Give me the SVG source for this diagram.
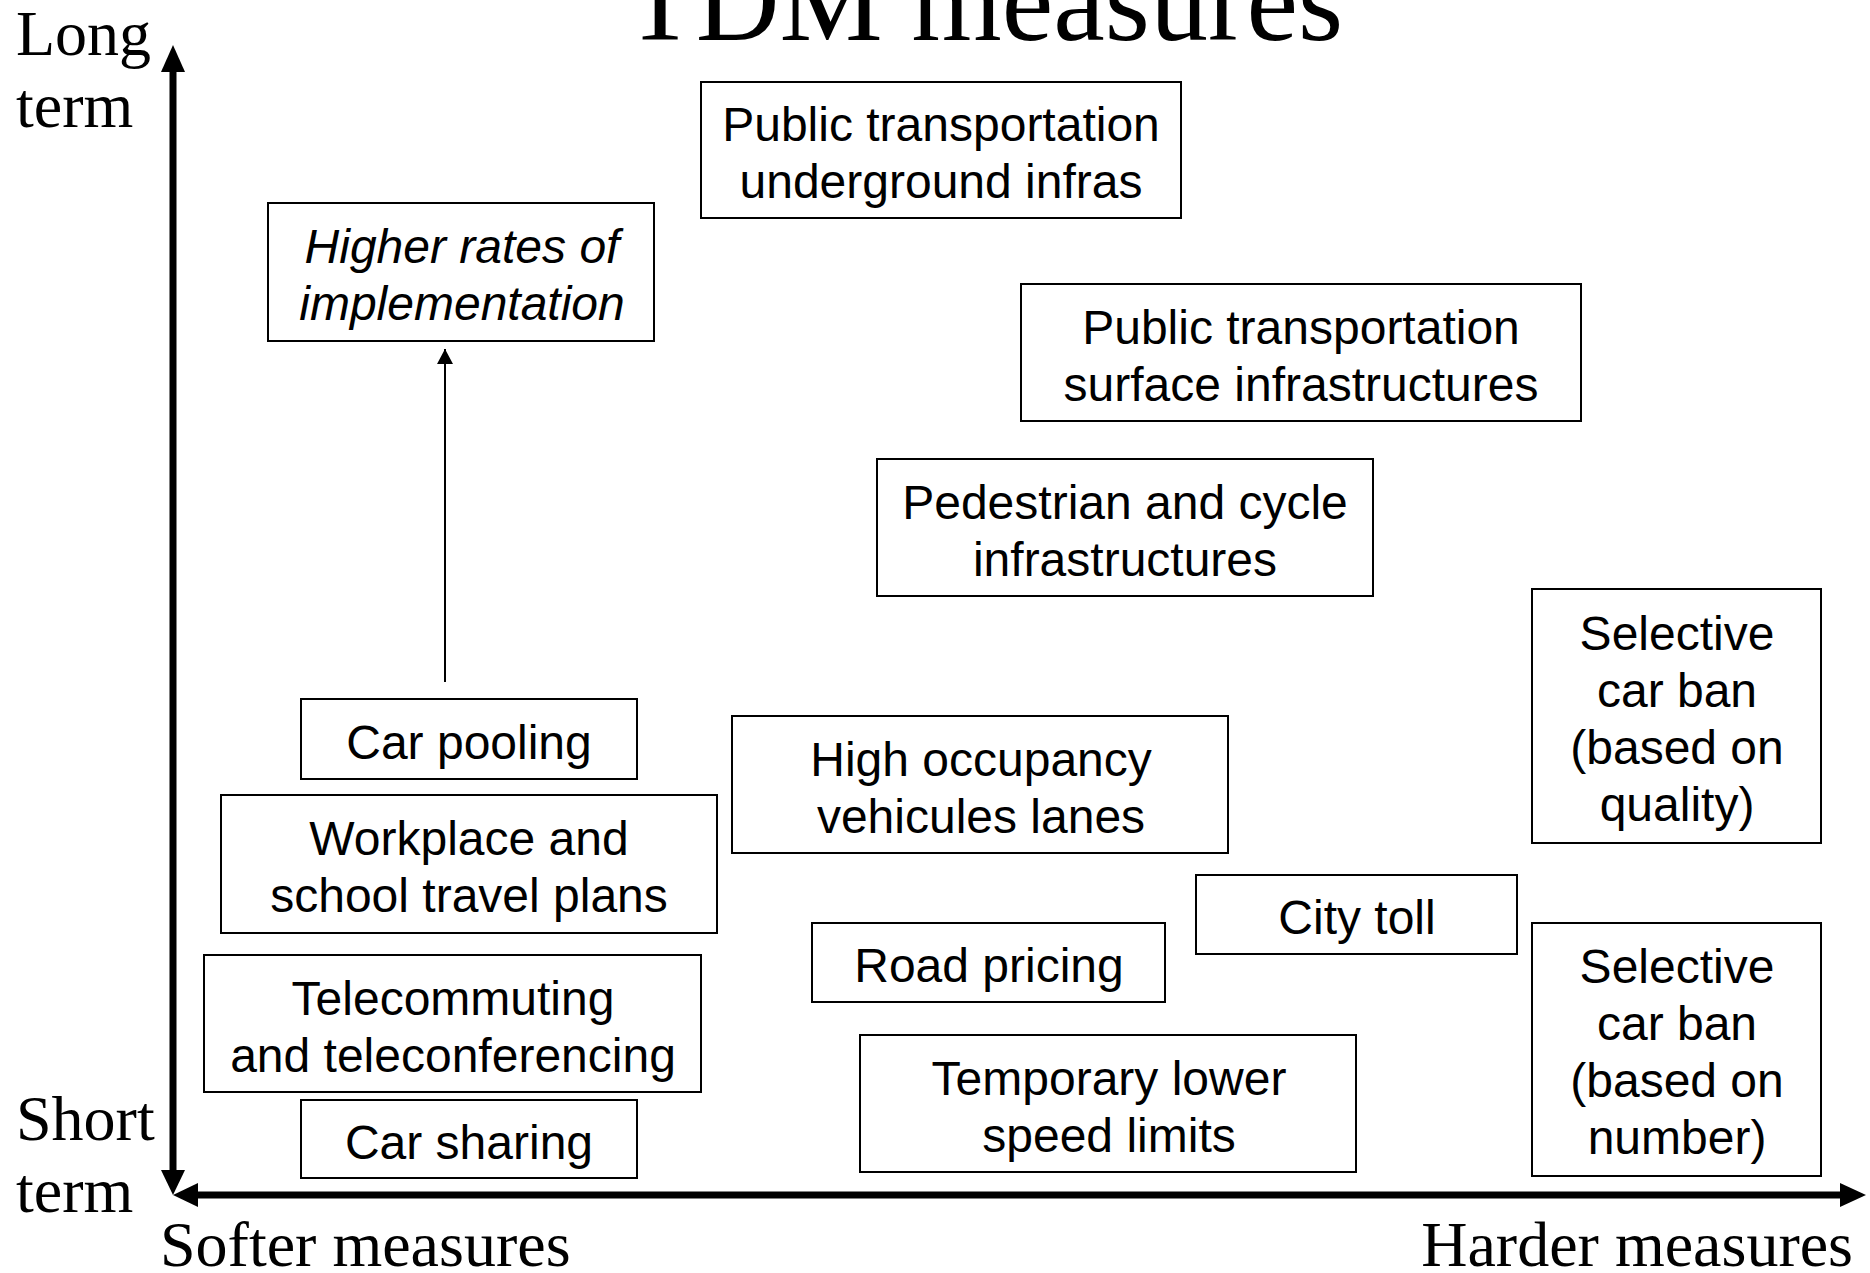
<svg xmlns="http://www.w3.org/2000/svg" width="1870" height="1273" viewBox="0 0 1870 1273">
<style>
.box{fill:#fff;stroke:#000;stroke-width:2}
.t{font-family:"Liberation Sans",Arial,sans-serif;font-size:48px;text-anchor:middle;fill:#000}
.it{font-style:italic}
.s{font-family:"Liberation Serif","Times New Roman",serif;font-size:64px;fill:#000}
.title{font-family:"Liberation Serif","Times New Roman",serif;font-size:116px;text-anchor:middle;fill:#000}
.axis{stroke:#000;stroke-width:7;fill:none}
</style>
<defs>
<marker id="ah" markerUnits="userSpaceOnUse" markerWidth="16" markerHeight="16" refX="15" refY="8" orient="auto">
<path d="M0,0 L15,8 L0,16 z" fill="#000"/>
</marker>
</defs>
<rect width="1870" height="1273" fill="#fff"/>
<text class="title" x="984" y="40">TDM measures</text>
<g id="axes">
<line class="axis" x1="173" y1="70" x2="173" y2="1172"/>
<polygon points="173,45 161,72 185,72"/>
<polygon points="173,1195 161,1170 185,1170"/>
<line class="axis" x1="196" y1="1195" x2="1842" y2="1195"/>
<polygon points="173,1195 198,1183 198,1207"/>
<polygon points="1866,1195 1840,1183 1840,1207"/>
<text class="s" x="16" y="55">Long</text>
<text class="s" x="16" y="127">term</text>
<text class="s" x="16" y="1140">Short</text>
<text class="s" x="16" y="1212">term</text>
<text class="s" x="160" y="1266">Softer measures</text>
<text class="s" x="1853" y="1266" text-anchor="end">Harder measures</text>
</g>
<g id="connectors">
<line x1="445" y1="682" x2="445" y2="349" stroke="#000" stroke-width="2" marker-end="url(#ah)"/>
</g>
<g id="higher-rates">
<rect class="box" x="268" y="203" width="386" height="138"/>
<text class="t it" x="462" y="263">Higher rates of</text>
<text class="t it" x="462" y="320">implementation</text>
</g>
<g id="pt-underground">
<rect class="box" x="701" y="82" width="480" height="136"/>
<text class="t" x="941" y="141">Public transportation</text>
<text class="t" x="941" y="198">underground infras</text>
</g>
<g id="pt-surface">
<rect class="box" x="1021" y="284" width="560" height="137"/>
<text class="t" x="1301" y="344">Public transportation</text>
<text class="t" x="1301" y="401">surface infrastructures</text>
</g>
<g id="pedestrian">
<rect class="box" x="877" y="459" width="496" height="137"/>
<text class="t" x="1125" y="519">Pedestrian and cycle</text>
<text class="t" x="1125" y="576">infrastructures</text>
</g>
<g id="ban-quality">
<rect class="box" x="1532" y="589" width="289" height="254"/>
<text class="t" x="1677" y="650">Selective</text>
<text class="t" x="1677" y="707">car ban</text>
<text class="t" x="1677" y="764">(based on</text>
<text class="t" x="1677" y="821">quality)</text>
</g>
<g id="car-pooling">
<rect class="box" x="301" y="699" width="336" height="80"/>
<text class="t" x="469" y="759">Car pooling</text>
</g>
<g id="hov-lanes">
<rect class="box" x="732" y="716" width="496" height="137"/>
<text class="t" x="981" y="776">High occupancy</text>
<text class="t" x="981" y="833">vehicules lanes</text>
</g>
<g id="travel-plans">
<rect class="box" x="221" y="795" width="496" height="138"/>
<text class="t" x="469" y="855">Workplace and</text>
<text class="t" x="469" y="912">school travel plans</text>
</g>
<g id="city-toll">
<rect class="box" x="1196" y="875" width="321" height="79"/>
<text class="t" x="1357" y="934">City toll</text>
</g>
<g id="road-pricing">
<rect class="box" x="812" y="923" width="353" height="79"/>
<text class="t" x="989" y="982">Road pricing</text>
</g>
<g id="telecommuting">
<rect class="box" x="204" y="955" width="497" height="137"/>
<text class="t" x="453" y="1015">Telecommuting</text>
<text class="t" x="453" y="1072">and teleconferencing</text>
</g>
<g id="ban-number">
<rect class="box" x="1532" y="923" width="289" height="253"/>
<text class="t" x="1677" y="983">Selective</text>
<text class="t" x="1677" y="1040">car ban</text>
<text class="t" x="1677" y="1097">(based on</text>
<text class="t" x="1677" y="1154">number)</text>
</g>
<g id="speed-limits">
<rect class="box" x="860" y="1035" width="496" height="137"/>
<text class="t" x="1109" y="1095">Temporary lower</text>
<text class="t" x="1109" y="1152">speed limits</text>
</g>
<g id="car-sharing">
<rect class="box" x="301" y="1100" width="336" height="78"/>
<text class="t" x="469" y="1159">Car sharing</text>
</g>
</svg>
